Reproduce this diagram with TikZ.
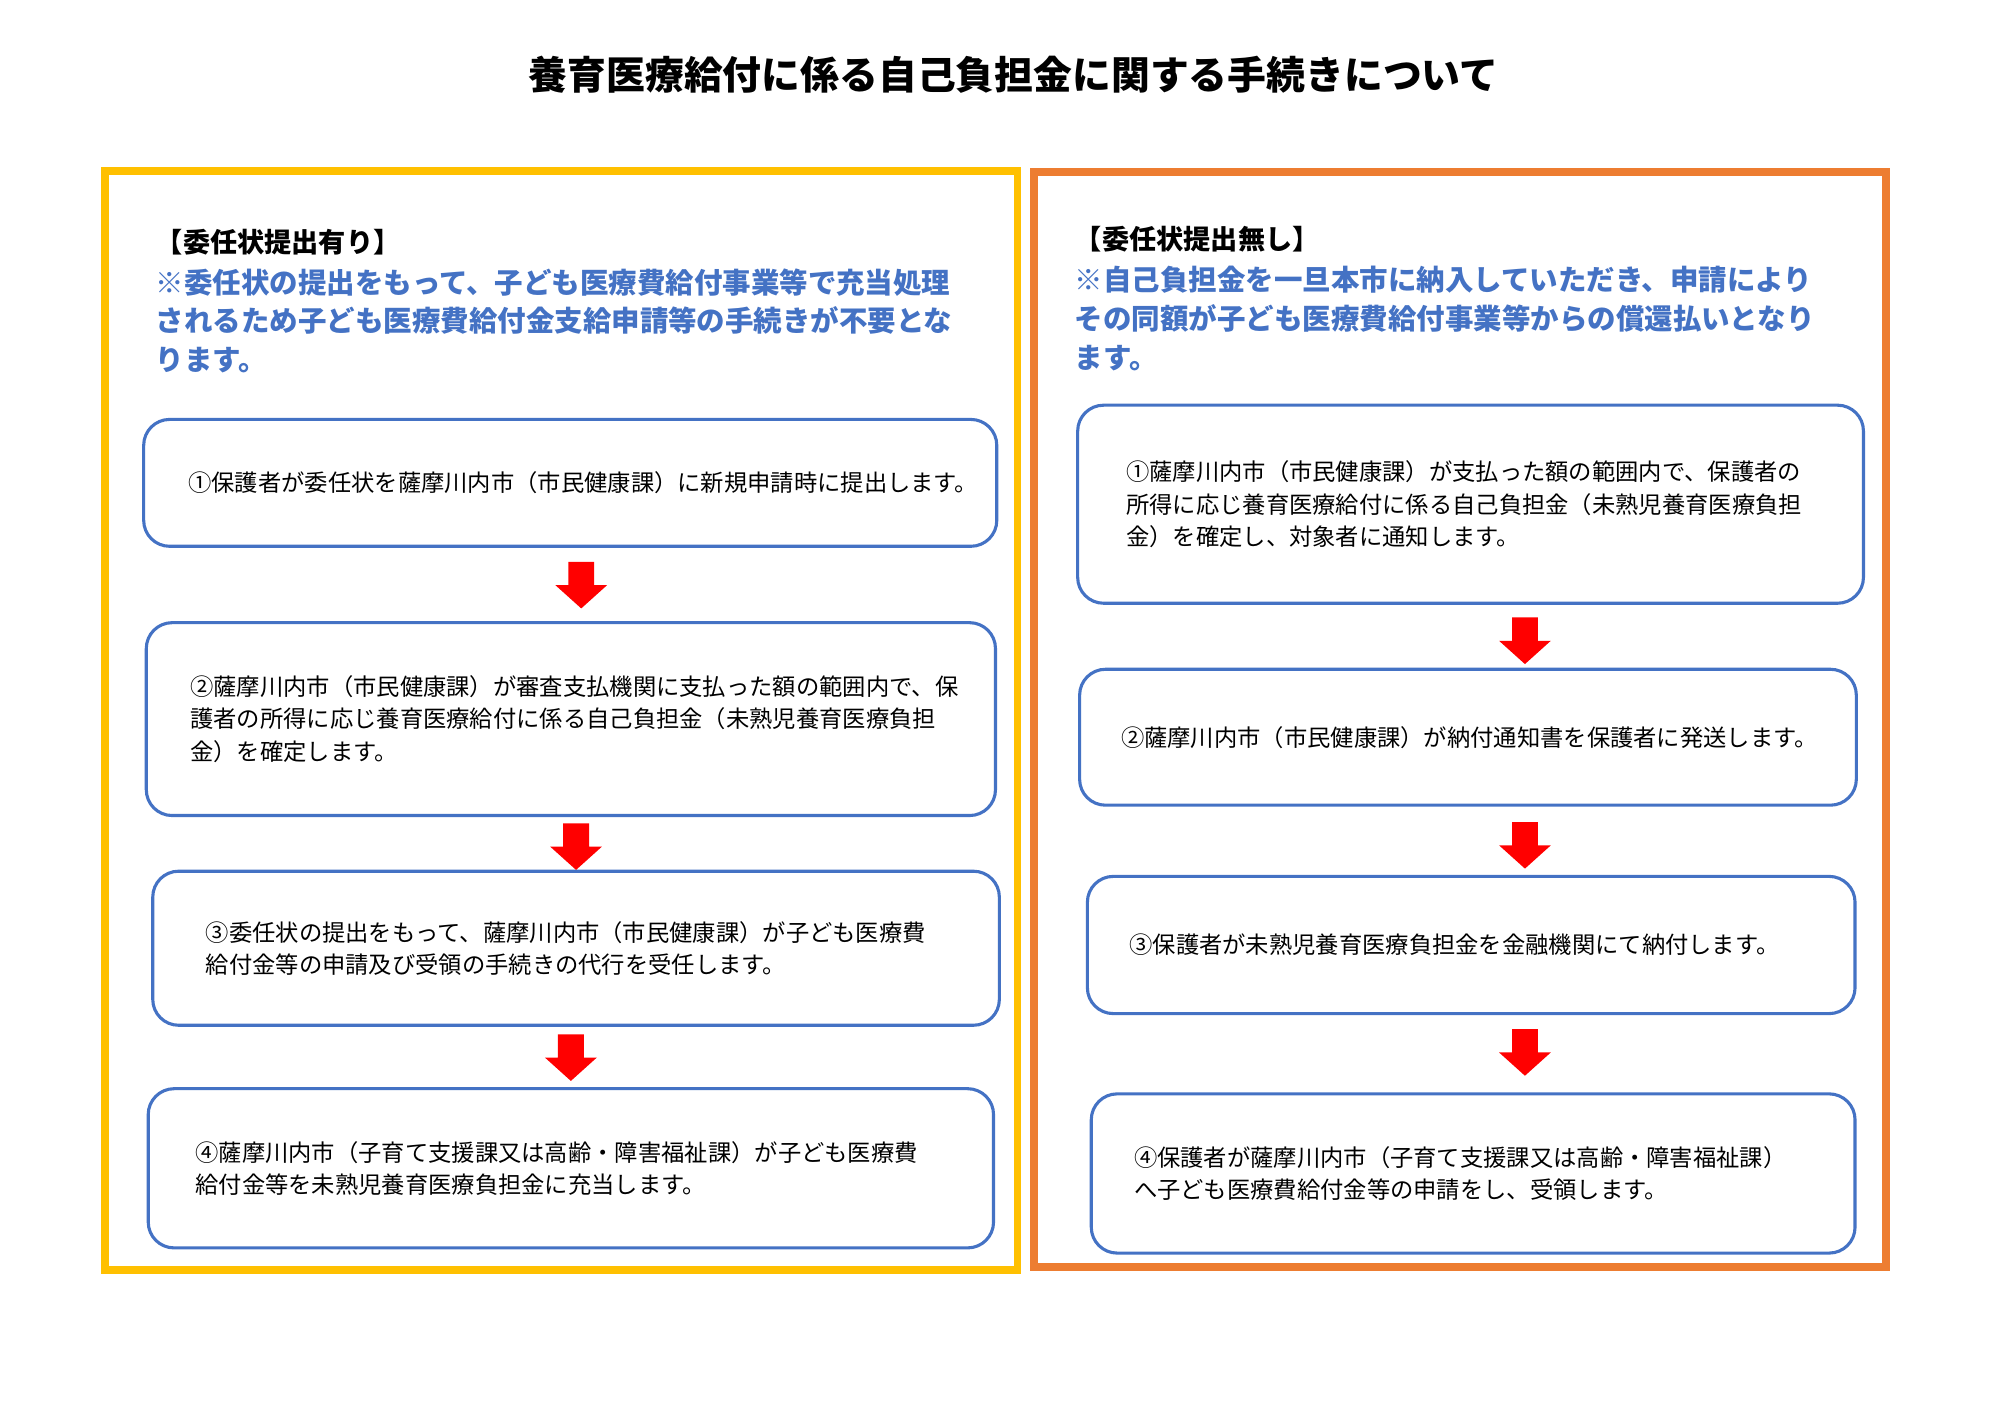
\documentclass[tikz,border=0pt]{standalone}
\usepackage{fontspec}
\setmainfont{Noto Sans CJK JP}
\usepackage{xcolor}
\usepackage{tikz}
\definecolor{frameyellow}{HTML}{FFC000}
\definecolor{frameorange}{HTML}{ED7D31}
\definecolor{boxblue}{HTML}{4472C4}
\definecolor{arrowred}{HTML}{FF0000}
\begin{document}
\begin{tikzpicture}[
            x=0.5pt, y=-0.5pt,
            stepbox/.style={draw=boxblue, line width=1.2pt, rounded corners=10pt, fill=white,
                align=left, font=\fontsize{9}{12.5}\selectfont, inner sep=0pt},
            heading/.style={anchor=west, font=\fontsize{10.5}{13}\selectfont\bfseries, inner sep=0pt},
            note/.style={anchor=north west, align=left, text=boxblue, inner sep=0pt,
                font=\fontsize{11}{15}\selectfont\bfseries},
            downarrow/.pic={\fill[arrowred] (-5pt,9pt) -- (5pt,9pt) -- (5pt,0pt) -- (10pt,0pt)
                -- (0pt,-9pt) -- (-10pt,0pt) -- (-5pt,0pt) -- cycle;}
        ]
        \useasboundingbox (0,0) rectangle (1545,1092);
        % Title
        \node[font=\fontsize{15}{18}\selectfont\bfseries, inner sep=0pt] (title) at (783,58)
            {養育医療給付に係る自己負担金に関する手続きについて};
        % Frames
        \draw[frameyellow, line width=3pt] (81,132) rectangle (786,981);
        \draw[frameorange, line width=3pt] (799,133) rectangle (1457,979);
        % Left column: with letter of attorney
        \node[heading] (lhead) at (120,187) {【委任状提出有り】};
        \node[note] (lnote) at (120,207) {※委任状の提出をもって、子ども医療費給付事業等で充当処理\\
            されるため子ども医療費給付金支給申請等の手続きが不要とな\\ります。};
        \node[stepbox, minimum width=329.5pt, minimum height=49pt, text width=295pt] (l1) at (440.5,373)
            {①保護者が委任状を薩摩川内市（市民健康課）に新規申請時に提出します。};
        \node[stepbox, minimum width=328pt, minimum height=74.5pt, text width=294pt] (l2) at (441,555.5)
            {②薩摩川内市（市民健康課）が審査支払機関に支払った額の範囲内で、保\\
            護者の所得に応じ養育医療給付に係る自己負担金（未熟児養育医療負担\\金）を確定します。};
        \node[stepbox, minimum width=327pt, minimum height=59.5pt, text width=286pt] (l3) at (445,732.5)
            {③委任状の提出をもって、薩摩川内市（市民健康課）が子ども医療費\\
            給付金等の申請及び受領の手続きの代行を受任します。};
        \node[stepbox, minimum width=326.5pt, minimum height=61.5pt, text width=290pt] (l4) at (441,902.5)
            {④薩摩川内市（子育て支援課又は高齢・障害福祉課）が子ども医療費\\
            給付金等を未熟児養育医療負担金に充当します。};
        \pic at (449,452) {downarrow};
        \pic at (445,654) {downarrow};
        \pic at (441,817) {downarrow};
        % Right column: without letter of attorney
        \node[heading] (rhead) at (830,185) {【委任状提出無し】};
        \node[note] (rnote) at (830,205) {※自己負担金を一旦本市に納入していただき、申請により\\
            その同額が子ども医療費給付事業等からの償還払いとなり\\ます。};
        \node[stepbox, minimum width=303.5pt, minimum height=76.5pt, text width=266pt] (r1) at (1136,389.5)
            {①薩摩川内市（市民健康課）が支払った額の範囲内で、保護者の\\
            所得に応じ養育医療給付に係る自己負担金（未熟児養育医療負担\\金）を確定し、対象者に通知します。};
        \node[stepbox, minimum width=300pt, minimum height=52.5pt, text width=268pt] (r2) at (1134,569.5)
            {②薩摩川内市（市民健康課）が納付通知書を保護者に発送します。};
        \node[stepbox, minimum width=296.5pt, minimum height=53pt, text width=264pt] (r3) at (1136.5,730)
            {③保護者が未熟児養育医療負担金を金融機関にて納付します。};
        \node[stepbox, minimum width=295pt, minimum height=61.5pt, text width=262pt] (r4) at (1138,906.5)
            {④保護者が薩摩川内市（子育て支援課又は高齢・障害福祉課）\\
            へ子ども医療費給付金等の申請をし、受領します。};
        \pic at (1178,495) {downarrow};
        \pic at (1178,653) {downarrow};
        \pic at (1178,813) {downarrow};
    \end{tikzpicture}
\end{document}
